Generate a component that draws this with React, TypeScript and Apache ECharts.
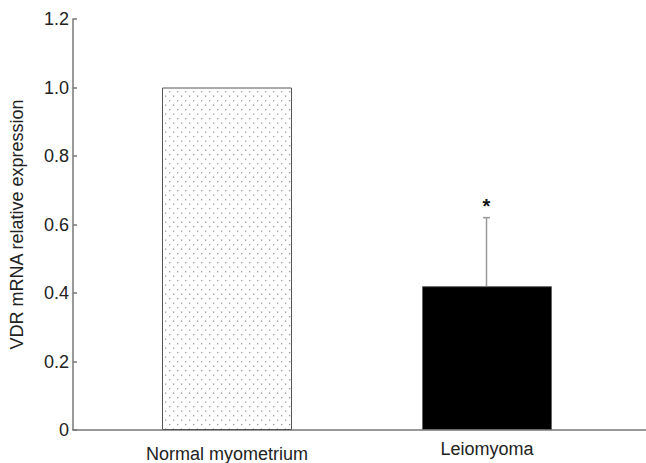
import React, { useEffect, useRef } from "react";
import * as echarts from "echarts";

const categories = ["Normal myometrium", "Leiomyoma"];
const values = [1.0, 0.42];
const errorTop: (number | null)[] = [null, 0.62];
const significance = ["", "*"];
const yTicks = { min: 0, max: 1.2, interval: 0.2 };

function makeDots(): string {
  const c = document.createElement("canvas");
  c.width = 8;
  c.height = 9;
  const ctx = c.getContext("2d")!;
  ctx.fillStyle = "#ffffff";
  ctx.fillRect(0, 0, 8, 9);
  ctx.fillStyle = "#9a9a9a";
  ctx.fillRect(1, 1, 1.3, 1.3);
  ctx.fillRect(5, 5.5, 1.3, 1.3);
  return c.toDataURL();
}

export default function App() {
  const ref = useRef<HTMLDivElement>(null);
  useEffect(() => {
    if (!ref.current) return;
    const chart = echarts.init(ref.current, null, { renderer: "svg" });
    const font = "'Liberation Sans', Arial, Helvetica, sans-serif";
    const dots = makeDots();
    chart.setOption({
      animation: false,
      textStyle: { fontFamily: font },
      grid: [
        { left: 63, right: 0, top: 19, bottom: 33 },
        { left: 97, right: 29, top: 19, bottom: 33 },
      ],
      xAxis: [
        {
          type: "value",
          gridIndex: 0,
          min: 0,
          max: 1,
          axisLine: { show: true, lineStyle: { color: "#777", width: 1.5 } },
          axisTick: { show: false },
          axisLabel: { show: false },
          splitLine: { show: false },
        },
        {
          type: "category",
          gridIndex: 1,
          data: categories,
          axisLine: { show: false },
          axisTick: { show: false },
          axisLabel: {
            margin: 10,
            color: "#222",
            fontSize: 18,
            fontFamily: font,
            formatter: (v: string) => (v === categories[0] ? "{a|" + v + "}" : "{b|" + v + "}"),
            rich: {
              a: { fontSize: 18, fontFamily: font, color: "#222", padding: [5, 0, 0, 0] },
              b: { fontSize: 18, fontFamily: font, color: "#222" },
            },
          },
        },
      ],
      yAxis: [
        {
          type: "value",
          gridIndex: 0,
          min: yTicks.min,
          max: yTicks.max,
          interval: yTicks.interval,
          name: "VDR mRNA relative expression",
          nameLocation: "middle",
          nameGap: 47,
          nameTextStyle: { fontSize: 18, color: "#222", fontFamily: font },
          axisLine: { show: true, lineStyle: { color: "#777", width: 1.5 } },
          axisTick: { show: true, inside: true, length: 4, lineStyle: { color: "#777", width: 1.5 } },
          axisLabel: {
            margin: 4,
            fontSize: 18,
            color: "#222",
            fontFamily: font,
            formatter: (v: number) => (v === 0 ? "0" : v.toFixed(1)),
          },
          splitLine: { show: false },
        },
        {
          type: "value",
          gridIndex: 1,
          min: yTicks.min,
          max: yTicks.max,
          interval: yTicks.interval,
          show: false,
        },
      ],
      series: [
        {
          type: "bar",
          xAxisIndex: 1,
          yAxisIndex: 1,
          barWidth: 130,
          data: values.map((v, i) =>
            i === 0
              ? {
                  value: v,
                  itemStyle: {
                    color: { image: dots, repeat: "repeat" },
                    borderColor: "#555",
                    borderWidth: 1,
                  },
                }
              : { value: v, itemStyle: { color: "#000", borderColor: "#666", borderWidth: 1 } }
          ),
        },
        {
          type: "custom",
          xAxisIndex: 1,
          yAxisIndex: 1,
          data: errorTop
            .map((e, i) => (e == null ? null : [i, values[i], e]))
            .filter((d) => d != null),
          renderItem: (params: any, api: any) => {
            const i = api.value(0);
            const base = api.coord([i, api.value(1)]);
            const top = api.coord([i, api.value(2)]);
            const x = Math.round(top[0]) - 0.5;
            return {
              type: "group",
              children: [
                {
                  type: "line",
                  shape: { x1: x, y1: base[1], x2: x, y2: top[1] },
                  style: { stroke: "#999", lineWidth: 1.5 },
                },
                {
                  type: "line",
                  shape: { x1: x - 3.5, y1: top[1], x2: x + 3.5, y2: top[1] },
                  style: { stroke: "#999", lineWidth: 1.5 },
                },
                {
                  type: "text",
                  x: x,
                  y: top[1] - 12,
                  style: {
                    text: significance[i],
                    fontSize: 20,
                    fontWeight: "bold",
                    fontFamily: font,
                    fill: "#111",
                    align: "center",
                    verticalAlign: "middle",
                  },
                },
              ],
            };
          },
        },
      ],
    });
    return () => chart.dispose();
  }, []);
  return <div ref={ref} style={{ width: 646, height: 463, position: "absolute", left: 0, top: 0 }} />;
}
